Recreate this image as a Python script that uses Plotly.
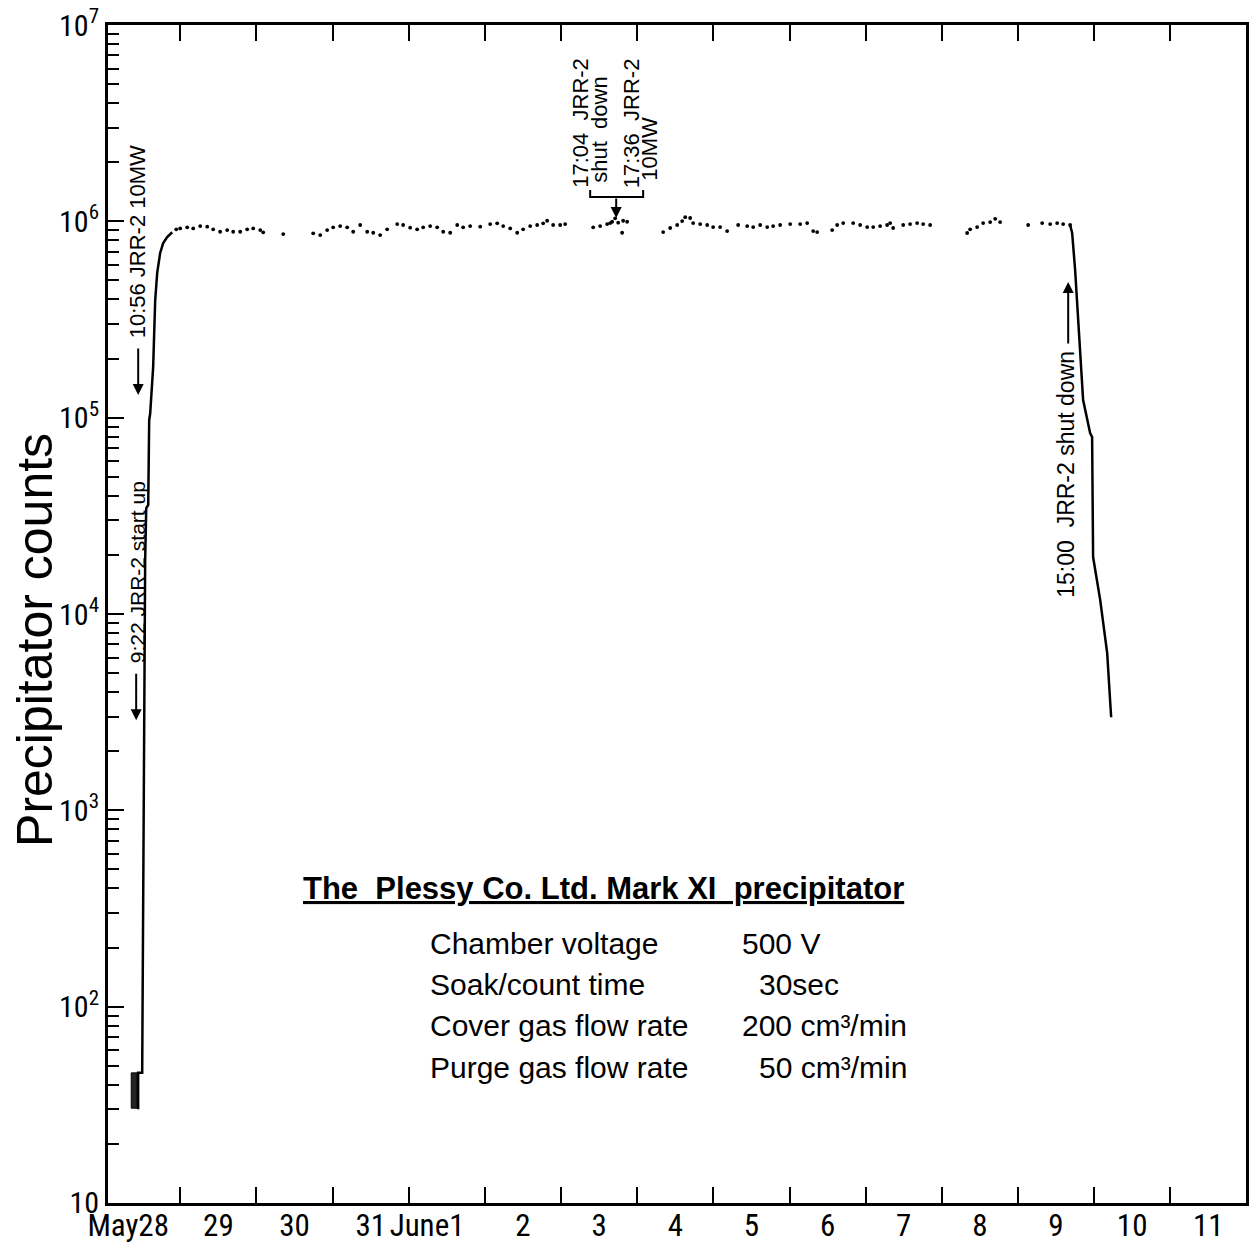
import plotly.graph_objects as go

# ---------------- data (time in days since May 28 00:00, counts) ----------------
pre_box_days = [0.355, 0.433, 0.433, 0.355, 0.355]
pre_box_counts = [30.4, 30.4, 46, 46, 30.4]

rise_days = [0.446, 0.446, 0.499, 0.512, 0.525, 0.538, 0.552, 0.578, 0.591, 0.604,
             0.643, 0.670, 0.696, 0.735, 0.775, 0.827, 0.893]
rise_counts = [30, 46, 46, 349, 3640, 18800, 34600, 35900, 97300, 105000,
               181000, 397000, 546000, 690000, 775000, 832000, 880000]

plateau_days = [0.946, 0.998, 1.090, 1.169, 1.261, 1.353, 1.431, 1.523, 1.615, 1.694,
                1.786, 1.878, 1.957, 2.049, 2.088, 2.351,
                2.745, 2.837, 2.928, 3.007, 3.099, 3.191, 3.270, 3.362, 3.454, 3.533,
                3.624, 3.716, 3.848, 3.926, 4.018, 4.110, 4.189, 4.281, 4.373, 4.452,
                4.544, 4.636, 4.714, 4.806, 4.938, 5.069, 5.161, 5.240, 5.332, 5.424,
                5.502, 5.594, 5.686, 5.765, 5.817, 5.896, 5.988, 6.054,
                6.422, 6.513, 6.605, 6.645, 6.671, 6.710, 6.750, 6.802, 6.815, 6.868,
                7.341, 7.433, 7.525, 7.590, 7.630, 7.695, 7.735, 7.827, 7.919, 7.997,
                8.089, 8.181,
                8.326, 8.444, 8.523, 8.615, 8.707, 8.785, 8.877, 9.009, 9.140, 9.232,
                9.311, 9.363,
                9.560, 9.626, 9.705, 9.836, 9.928, 10.020, 10.099, 10.190, 10.282, 10.322,
                10.361, 10.493, 10.584, 10.676, 10.755, 10.847,
                11.333, 11.372, 11.464, 11.543, 11.635, 11.701, 11.766, 12.134,
                12.318, 12.423, 12.515, 12.594, 12.685]
plateau_counts_k = [911, 920, 932, 920, 946, 939, 911, 885, 903, 885,
                    885, 911, 920, 903, 879, 861,
                    869, 851, 903, 932, 946, 932, 885, 958, 885, 875,
                    851, 911, 969, 958, 928, 911, 932, 946, 932, 885,
                    875, 958, 932, 946, 939, 969, 977, 946, 920, 875,
                    911, 946, 958, 977, 1007, 958, 958, 969,
                    932, 946, 969, 980, 995, 1036, 984, 875, 1007, 995,
                    882, 925, 958, 1003, 1050, 1040, 980, 969, 958, 935,
                    935, 892,
                    958, 946, 935, 958, 935, 946, 958, 969, 969, 980,
                    892, 882,
                    903, 958, 980, 980, 958, 935, 935, 946, 958, 980,
                    925, 958, 969, 980, 969, 958,
                    872, 911, 935, 980, 992, 1030, 992, 958,
                    980, 969, 980, 969, 958]

decline_days = [12.685, 12.712, 12.751, 12.856, 12.948, 12.974, 12.987, 13.080, 13.172, 13.224]
decline_counts = [958000, 872000, 565000, 123000, 83500, 79700, 19500, 11800, 6320, 2980]

day_ticks = list(range(1, 15))
day_label_pos = [0.315, 1.5, 2.5, 3.5, 4.24, 5.5, 6.5, 7.5, 8.5, 9.5, 10.5, 11.5, 12.5, 13.5, 14.5]
day_labels = ["May28", "29", "30", "31", "June1", "2", "3", "4", "5", "6", "7", "8", "9", "10", "11"]

y_tick_vals = [1e1, 1e2, 1e3, 1e4, 1e5, 1e6, 1e7]
y_tick_text = ["10", "10<sup>2</sup>", "10<sup>3</sup>", "10<sup>4</sup>",
               "10<sup>5</sup>", "10<sup>6</sup>", "10<sup>7</sup>"]
y_minor_vals = [k * 10 ** n for n in range(1, 7) for k in range(2, 10)]

info_labels = ["Chamber voltage", "Soak/count time", "Cover gas flow rate", "Purge gas flow rate"]
info_values = ["500 V", "30sec", "200 cm³/min", "50 cm³/min"]

# ---------------- figure ----------------
NARROW = "Liberation Sans Narrow, Roboto Condensed, Liberation Sans, Arial, sans-serif"
SANS = "Liberation Sans, Arial, Helvetica, sans-serif"

fig = go.Figure()

fig.add_trace(go.Scatter(x=pre_box_days, y=pre_box_counts, mode="lines", fill="toself",
                         fillcolor="#222", line=dict(color="black", width=1),
                         showlegend=False, hoverinfo="skip"))
fig.add_trace(go.Scatter(x=rise_days, y=rise_counts, mode="lines",
                         line=dict(color="black", width=2.5), showlegend=False))
fig.add_trace(go.Scatter(x=plateau_days, y=[v * 1000 for v in plateau_counts_k], mode="markers",
                         marker=dict(color="black", size=3.8), showlegend=False))
fig.add_trace(go.Scatter(x=decline_days, y=decline_counts, mode="lines",
                         line=dict(color="black", width=2.5), showlegend=False))
# helper trace so the label axis is drawn
fig.add_trace(go.Scatter(x=[None], y=[None], xaxis="x2", yaxis="y", mode="markers",
                         showlegend=False, hoverinfo="skip"))

XR = [0.05, 14.995]
fig.update_layout(
    width=1260, height=1245, autosize=False,
    margin=dict(l=108, r=14, t=25, b=42),
    paper_bgcolor="white", plot_bgcolor="white",
    xaxis=dict(range=XR, tickmode="array", tickvals=day_ticks, showticklabels=False,
               ticks="inside", ticklen=16, tickwidth=2, tickcolor="black",
               showline=True, linewidth=3, linecolor="black", mirror="ticks",
               showgrid=False, zeroline=False, automargin=False),
    xaxis2=dict(range=XR, overlaying="x", side="bottom", anchor="y",
                tickmode="array", tickvals=day_label_pos, ticktext=day_labels,
                tickangle=0, ticks="", showline=False, showgrid=False, zeroline=False,
                automargin=False, ticklabelstandoff=1,
                tickfont=dict(family=NARROW, size=31, color="black")),
    yaxis=dict(type="log", range=[1 - 1e-4, 7 + 1e-4], tickmode="array",
               tickvals=y_tick_vals, ticktext=y_tick_text,
               ticks="inside", ticklen=16, tickwidth=2, tickcolor="black",
               minor=dict(tickmode="array", tickvals=y_minor_vals, ticks="inside",
                          ticklen=11, tickwidth=2, tickcolor="black", showgrid=False),
               showline=True, linewidth=3, linecolor="black", mirror=True,
               showgrid=False, zeroline=False, automargin=False,
               tickfont=dict(family=NARROW, size=30, color="black")),
)

# y-axis title
fig.add_annotation(text="Precipitator counts", xref="paper", yref="paper",
                   x=-0.0641, y=0.478, textangle=-90, showarrow=False,
                   xanchor="center", yanchor="middle",
                   font=dict(family=SANS, size=50, color="black"))

# event annotations (rotated)
def vtext(txt, x, y, size=22, yanchor="bottom"):
    fig.add_annotation(text=txt, x=x, y=y, xref="x", yref="y", textangle=-90,
                       showarrow=False, xanchor="center", yanchor=yanchor,
                       font=dict(family=SANS, size=size, color="black"))

def varrow(x, y, ay):
    fig.add_annotation(text="", x=x, y=y, xref="x", yref="y", ax=0, ay=ay,
                       showarrow=True, arrowhead=2, arrowsize=1.1, arrowwidth=2,
                       arrowcolor="black")

vtext("9:22 JRR-2 start up", 0.433, 3.740, size=21)
varrow(0.42, 3.459, -48)
vtext("10:56 JRR-2 10MW", 0.44, 5.395)
varrow(0.4465, 5.115, -48)

vtext("17:04  JRR-2", 6.244, 6.159)
vtext("shut  down", 6.494, 6.185)
vtext("17:36  JRR-2", 6.920, 6.159)
vtext("10MW", 7.150, 6.195)
varrow(6.724, 6.017, -21)
fig.add_shape(type="path", xref="x", yref="paper",
              path="M 6.382 0.860 L 6.382 0.854 L 7.078 0.854 L 7.078 0.860",
              line=dict(color="black", width=2))

vtext("15:00  JRR-2 shut down", 12.62, 4.071, size=23)
varrow(12.66, 5.691, 63)

# info block
fig.add_annotation(text="<u>The  Plessy Co. Ltd. Mark XI  precipitator</u>",
                   xref="paper", yref="paper", x=0.4354, y=0.2674, showarrow=False,
                   xanchor="center", yanchor="middle",
                   font=dict(family=SANS, size=31, color="black", weight="bold"))
row_y = [0.2207, 0.1851, 0.1503, 0.1154]
val_x = [0.5554, 0.5703, 0.5554, 0.5703]
for lab, val, yy, vx in zip(info_labels, info_values, row_y, val_x):
    fig.add_annotation(text=lab, xref="paper", yref="paper", x=0.2812, y=yy,
                       showarrow=False, xanchor="left", yanchor="middle",
                       font=dict(family=SANS, size=30, color="black"))
    fig.add_annotation(text=val, xref="paper", yref="paper", x=vx, y=yy,
                       showarrow=False, xanchor="left", yanchor="middle",
                       font=dict(family=SANS, size=30, color="black"))

fig.write_html("out.html")
